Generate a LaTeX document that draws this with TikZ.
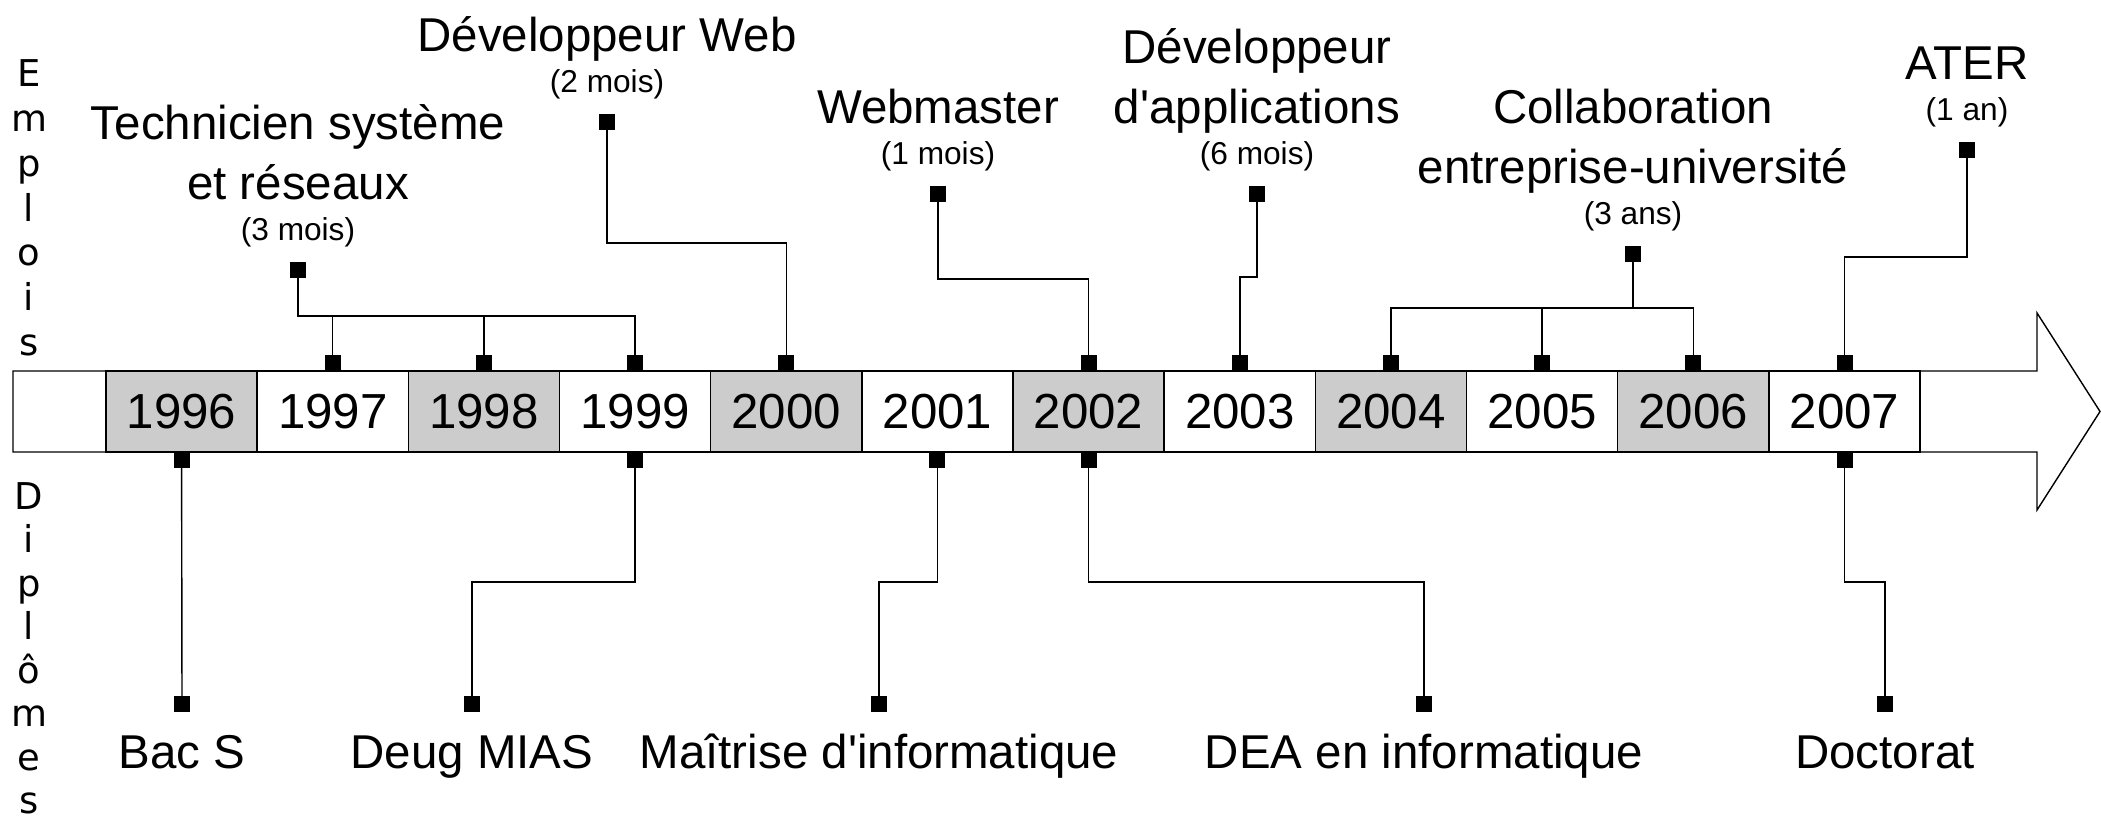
\documentclass[tikz,border=0pt]{standalone}
\usepackage{fontspec}
\setmainfont{Liberation Sans}
\newfontfamily\sidefont{DejaVu Sans}
\definecolor{cellgray}{HTML}{CCCCCC}
\tikzset{
  yearcell/.style={draw, minimum width=1.5117cm, minimum height=0.81cm, inner sep=0pt, outer sep=0pt, font=\fontsize{14}{16}\selectfont},
  pin/.style={fill=black, minimum size=0.16cm, inner sep=0pt, outer sep=0pt},
  jobtext/.style={anchor=base, font=\fontsize{13.5}{16}\selectfont},
  duration/.style={anchor=base, font=\fontsize{9}{11}\selectfont},
  sideletter/.style={anchor=base, font=\sidefont\fontsize{10.5}{12}\selectfont},
  link/.style={line width=0.4pt}
}
\begin{document}
\begin{tikzpicture}[x=0.01cm, y=-0.01cm, line width=0.4pt]
	\useasboundingbox (0,0) rectangle (2101,816);

	% time arrow
	\draw[fill=white] (13,371) -- (2037,371) -- (2037,313) -- (2100,411.5) -- (2037,510) -- (2037,452) -- (13,452) -- cycle;
	\foreach \yr/\shade in {1996/cellgray, 1997/white, 1998/cellgray, 1999/white, 2000/cellgray, 2001/white,
	                        2002/cellgray, 2003/white, 2004/cellgray, 2005/white, 2006/cellgray, 2007/white}
		\node[yearcell, fill=\shade] (y\yr) at ({181.6+151.17*(\yr-1996)}, 411.5) {\yr};

	\foreach \yr in {1997,1998,1999,2000,2002,2003,2004,2005,2006,2007}
		\node[pin, anchor=south] (t\yr) at (y\yr.north) {};
	\foreach \yr in {1996,1999,2001,2002,2007}
		\node[pin, anchor=north] (b\yr) at (y\yr.south) {};

	% side titles
	\foreach \l [count=\i from 0] in {E,m,p,l,o,i,s}
		\node[sideletter] (emp\i) at (29, 87+44.7*\i) {\l};
	\foreach \l [count=\i from 0] in {D,i,p,l,ô,m,e,s}
		\node[sideletter] (dip\i) at (29, 509+43.5*\i) {\l};

	% emplois
	\node[jobtext] (tech1) at (298,140) {Technicien système};
	\node[jobtext] (tech2) at (298,200) {et réseaux};
	\node[duration] (techdur) at (298,241) {(3 mois)};
	\node[pin] (jobtech) at (298,270) {};
	\coordinate (jtech) at (298,316);
	\draw[link] (jobtech) -- (jtech) -| (t1997);
	\draw[link] (jtech) -| (t1998);
	\draw[link] (jtech) -| (t1999);

	\node[jobtext] (web1) at (607,52) {Développeur Web};
	\node[duration] (webdur) at (607,93) {(2 mois)};
	\node[pin] (jobweb) at (607,122) {};
	\coordinate (jweb) at (607,243);
	\draw[link] (jobweb) -- (jweb) -| (t2000);

	\node[jobtext] (wm1) at (938,124) {Webmaster};
	\node[duration] (wmdur) at (938,165) {(1 mois)};
	\node[pin] (jobwm) at (938,194) {};
	\coordinate (jwm) at (938,279);
	\draw[link] (jobwm) -- (jwm) -| (t2002);

	\node[jobtext] (app1) at (1257,64) {Développeur};
	\node[jobtext] (app2) at (1257,124) {d\textquotesingle applications};
	\node[duration] (appdur) at (1257,165) {(6 mois)};
	\node[pin] (jobapp) at (1257,194) {};
	\coordinate (japp) at (1257,277);
	\draw[link] (jobapp) -- (japp) -| (t2003);

	\node[jobtext] (col1) at (1633,124) {Collaboration};
	\node[jobtext] (col2) at (1633,184) {entreprise-université};
	\node[duration] (coldur) at (1633,225) {(3 ans)};
	\node[pin] (jobcol) at (1633,254) {};
	\coordinate (jcol) at (1633,308);
	\draw[link] (jobcol) -- (jcol) -| (t2004);
	\draw[link] (jcol) -| (t2005);
	\draw[link] (jcol) -| (t2006);

	\node[jobtext] (ater1) at (1967,80) {ATER};
	\node[duration] (aterdur) at (1967,121) {(1 an)};
	\node[pin] (jobater) at (1967,150) {};
	\coordinate (jater) at (1967,257);
	\draw[link] (jobater) -- (jater) -| (t2007);

	% diplomes
	\node[pin] (dipbac) at (182,704) {};
	\node[jobtext] (bac) at (182,768) {Bac S};
	\draw[link] (b1996) -- (dipbac);

	\node[pin] (dipdeug) at (472,704) {};
	\node[jobtext] (deug) at (472,768) {Deug MIAS};
	\coordinate (jdeug) at (472,582);
	\draw[link] (b1999) |- (jdeug) -- (dipdeug);

	\node[pin] (dipmait) at (879,704) {};
	\node[jobtext] (mait) at (879,768) {Maîtrise d\textquotesingle informatique};
	\coordinate (jmait) at (879,582);
	\draw[link] (b2001) |- (jmait) -- (dipmait);

	\node[pin] (dipdea) at (1424,704) {};
	\node[jobtext] (dea) at (1424,768) {DEA en informatique};
	\coordinate (jdea) at (1424,582);
	\draw[link] (b2002) |- (jdea) -- (dipdea);

	\node[pin] (dipdoc) at (1885,704) {};
	\node[jobtext] (doc) at (1885,768) {Doctorat};
	\coordinate (jdoc) at (1885,582);
	\draw[link] (b2007) |- (jdoc) -- (dipdoc);
\end{tikzpicture}
\end{document}
